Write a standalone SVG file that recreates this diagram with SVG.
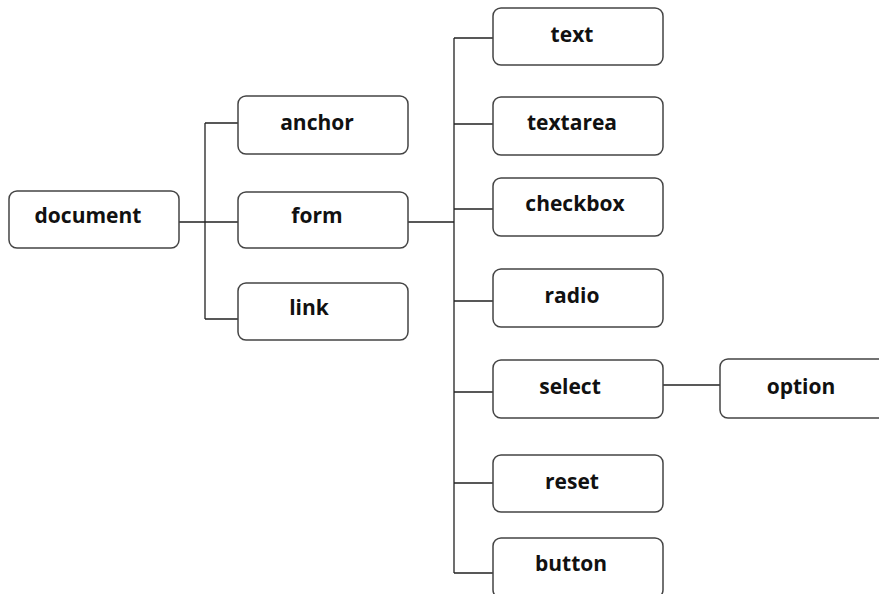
<svg xmlns="http://www.w3.org/2000/svg" width="879" height="594" viewBox="0 0 879 594">
<style>
.box{fill:#fff;stroke:#444;stroke-width:1.5}
.lbl{font-family:"Open Sans","DejaVu Sans",sans-serif;font-weight:bold;font-size:21px;fill:#111;text-anchor:middle}
.ln{stroke:#222;stroke-width:1.3;fill:none}
</style>
<rect width="879" height="594" fill="#fff"/>
<g id="connectors">
<path class="ln" d="M179 222H205M205 123V319M205 123H238M205 222H238M205 319H238"/>
<path class="ln" d="M408 222H454M454 38V573M454 38H493M454 124H493M454 209H493M454 301H493M454 392H493M454 483H493M454 573H493"/>
<path class="ln" d="M663 385H720"/>
</g>
<g id="document"><rect class="box" x="9" y="191" width="170" height="57" rx="8"/><text class="lbl" x="88" y="223">document</text></g>
<g id="anchor"><rect class="box" x="238" y="96" width="170" height="58" rx="8"/><text class="lbl" x="317" y="130">anchor</text></g>
<g id="form"><rect class="box" x="238" y="192" width="170" height="56" rx="8"/><text class="lbl" x="317" y="223">form</text></g>
<g id="link"><rect class="box" x="238" y="283" width="170" height="57" rx="8"/><text class="lbl" x="309" y="315">link</text></g>
<g id="text"><rect class="box" x="493" y="8" width="170" height="57" rx="8"/><text class="lbl" x="572" y="42">text</text></g>
<g id="textarea"><rect class="box" x="493" y="97" width="170" height="58" rx="8"/><text class="lbl" x="572" y="130">textarea</text></g>
<g id="checkbox"><rect class="box" x="493" y="178" width="170" height="58" rx="8"/><text class="lbl" x="575" y="211">checkbox</text></g>
<g id="radio"><rect class="box" x="493" y="269" width="170" height="58" rx="8"/><text class="lbl" x="572" y="303">radio</text></g>
<g id="select"><rect class="box" x="493" y="360" width="170" height="58" rx="8"/><text class="lbl" x="570" y="394">select</text></g>
<g id="option"><rect class="box" x="720" y="359" width="172" height="59" rx="8"/><text class="lbl" x="801" y="394">option</text></g>
<g id="reset"><rect class="box" x="493" y="455" width="170" height="57" rx="8"/><text class="lbl" x="572" y="489">reset</text></g>
<g id="button"><rect class="box" x="493" y="538" width="170" height="60" rx="8"/><text class="lbl" x="571" y="571">button</text></g>
</svg>
